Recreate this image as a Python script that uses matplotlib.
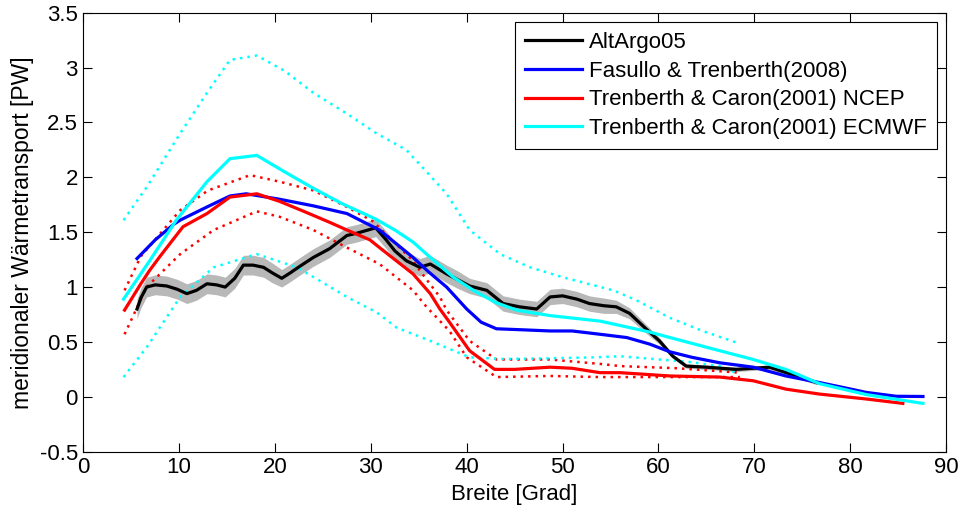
import matplotlib
matplotlib.use("Agg")
import matplotlib.pyplot as plt
import numpy as np

plt.rcParams['font.family'] = ['Liberation Sans', 'DejaVu Sans']

# AltArgo05 estimate with uncertainty band
argo_lat = [5.6, 6.0, 6.6, 7.5, 8.7, 9.8, 10.8, 11.8, 12.9, 13.9, 14.8, 15.8, 16.7, 17.7,
            18.8, 19.7, 20.7, 21.6, 22.6, 24.0, 25.7, 27.5, 28.5, 29.7, 30.5, 31.6, 32.5,
            33.7, 35.1, 36.2, 37.9, 39.0, 40.3, 42.1, 43.8, 45.5, 47.3, 48.7, 50.0, 51.5,
            52.8, 54.3, 55.6, 57.0, 58.7, 60.1, 61.5, 62.9, 65.0, 68.1, 71.6, 74.4, 76.5]
argo_val = [0.80, 0.90, 1.00, 1.02, 1.01, 0.98, 0.94, 0.97, 1.03, 1.02, 1.00, 1.08, 1.20, 1.20,
            1.18, 1.13, 1.08, 1.13, 1.19, 1.27, 1.35, 1.47, 1.49, 1.52, 1.54, 1.43, 1.33,
            1.24, 1.18, 1.21, 1.12, 1.07, 1.01, 0.97, 0.85, 0.82, 0.80, 0.91, 0.92, 0.89,
            0.85, 0.83, 0.82, 0.76, 0.62, 0.51, 0.37, 0.28, 0.27, 0.25, 0.27, 0.19, 0.13]
argo_err = [0.09, 0.09, 0.09, 0.09, 0.09, 0.09, 0.09, 0.09, 0.09, 0.09, 0.09, 0.09, 0.09, 0.09,
            0.09, 0.09, 0.08, 0.08, 0.08, 0.08, 0.08, 0.08, 0.08, 0.08, 0.08, 0.08, 0.08,
            0.08, 0.08, 0.08, 0.08, 0.08, 0.07, 0.07, 0.07, 0.07, 0.07, 0.07, 0.07, 0.07,
            0.07, 0.07, 0.06, 0.05, 0.04, 0.03, 0.02, 0.02, 0.02, 0.02, 0.02, 0.02, 0.02]

# Fasullo & Trenberth (2008)
ft_lat = [5.6, 7.5, 9.4, 10.1, 12.9, 15.3, 17.0, 20.5, 24.0, 27.5, 30.9, 34.4, 36.0, 37.9,
          40.0, 41.5, 43.1, 46.0, 48.7, 51.0, 53.9, 56.7, 59.1, 61.2, 63.5, 66.4, 69.9,
          73.3, 76.8, 79.0, 81.7, 84.8, 87.6]
ft_val = [1.26, 1.43, 1.57, 1.61, 1.73, 1.83, 1.85, 1.80, 1.74, 1.67, 1.52, 1.27, 1.14, 1.00,
          0.80, 0.68, 0.62, 0.61, 0.60, 0.60, 0.57, 0.54, 0.48, 0.41, 0.36, 0.31, 0.27,
          0.19, 0.13, 0.09, 0.04, 0.005, 0.003]

# Trenberth & Caron (2001), NCEP
ncep_lat = [4.3, 6.0, 6.9, 8.0, 10.4, 12.9, 15.3, 18.1, 20.5, 23.0, 25.7, 27.5, 29.9, 30.9,
            32.5, 34.4, 36.2, 37.2, 38.2, 40.3, 42.9, 45.0, 48.7, 51.0, 53.9, 56.0, 61.2,
            66.4, 69.9, 73.3, 76.8, 81.7, 85.5]
ncep_val = [0.79, 1.03, 1.15, 1.28, 1.55, 1.67, 1.82, 1.85, 1.78, 1.69, 1.59, 1.52, 1.43, 1.36,
            1.25, 1.12, 0.94, 0.80, 0.68, 0.42, 0.25, 0.25, 0.27, 0.26, 0.22, 0.22, 0.19,
            0.18, 0.146, 0.07, 0.025, -0.02, -0.06]
ncep_hi_lat = [4.3, 6.0, 10.1, 13.0, 17.4, 20.5, 24.0, 27.5, 30.2, 31.6, 34.4, 35.1, 37.2,
               37.9, 40.3, 43.1, 48.7, 53.9, 56.0, 62.0, 68.5]
ncep_hi_val = [0.97, 1.28, 1.70, 1.88, 2.02, 1.96, 1.88, 1.73, 1.60, 1.48, 1.24, 1.15, 0.91,
               0.79, 0.51, 0.34, 0.34, 0.30, 0.28, 0.26, 0.22]
ncep_lo_lat = [4.3, 6.6, 10.1, 13.6, 18.1, 20.5, 24.0, 27.5, 30.9, 34.4, 35.8, 38.2, 40.0,
               43.1, 48.7, 53.9, 56.0, 62.0, 68.5]
ncep_lo_val = [0.57, 1.00, 1.30, 1.52, 1.69, 1.64, 1.52, 1.36, 1.21, 0.97, 0.82, 0.60, 0.36,
               0.18, 0.19, 0.18, 0.18, 0.18, 0.18]

# Trenberth & Caron (2001), ECMWF
ecmwf_lat = [4.2, 7.0, 9.7, 12.9, 15.3, 18.1, 21.0, 24.0, 27.0, 30.5, 32.5, 34.4, 36.2, 38.6,
             40.7, 43.0, 45.2, 48.7, 53.9, 56.0, 59.1, 61.2, 66.4, 69.9, 73.3, 76.8, 81.7, 87.6]
ecmwf_val = [0.89, 1.25, 1.61, 1.96, 2.17, 2.20, 2.05, 1.90, 1.76, 1.62, 1.52, 1.41, 1.27, 1.09,
             0.97, 0.86, 0.79, 0.74, 0.69, 0.65, 0.59, 0.54, 0.42, 0.34, 0.25, 0.12, 0.02, -0.06]
ecmwf_hi_lat = [4.2, 6.6, 10.1, 12.9, 15.3, 18.1, 21.0, 24.0, 27.5, 30.6, 33.7, 35.5, 37.9,
                40.3, 43.5, 46.6, 50.0, 55.3, 57.7, 61.2, 64.6, 68.3]
ecmwf_hi_val = [1.61, 1.91, 2.40, 2.77, 3.07, 3.11, 2.97, 2.77, 2.58, 2.40, 2.25, 2.08, 1.85,
                1.52, 1.30, 1.18, 1.09, 0.97, 0.88, 0.72, 0.60, 0.49]
ecmwf_lo_lat = [4.2, 6.6, 10.1, 13.6, 18.1, 22.3, 25.0, 27.5, 30.6, 32.7, 36.2, 40.3, 43.8,
                48.0, 53.5, 56.0, 60.1, 63.0, 66.4, 68.3]
ecmwf_lo_val = [0.18, 0.45, 0.91, 1.18, 1.30, 1.18, 1.04, 0.91, 0.77, 0.63, 0.51, 0.36, 0.345,
                0.35, 0.36, 0.37, 0.34, 0.32, 0.28, 0.21]

labels = ['AltArgo05', 'Fasullo & Trenberth(2008)', 'Trenberth & Caron(2001) NCEP',
          'Trenberth & Caron(2001) ECMWF']
x_ticks = [0, 10, 20, 30, 40, 50, 60, 70, 80, 90]
y_ticks = [-0.5, 0, 0.5, 1, 1.5, 2, 2.5, 3, 3.5]
y_ticklabels = ['-0.5', '0', '0.5', '1', '1.5', '2', '2.5', '3', '3.5']

fig = plt.figure(figsize=(9.59, 5.19), dpi=100)
ax = fig.add_axes([0.0869, 0.1297, 0.8995, 0.8458])

main_lw = 2.3
dot = (0, (1, 2))

a_lat = np.array(argo_lat)
a_val = np.array(argo_val)
a_err = np.array(argo_err)
ax.fill_between(a_lat, a_val - a_err, a_val + a_err, color=(0.72, 0.72, 0.72), lw=0, zorder=1)

ax.plot(ncep_hi_lat, ncep_hi_val, color='red', lw=1.8, ls=dot, zorder=2)
ax.plot(ncep_lo_lat, ncep_lo_val, color='red', lw=1.8, ls=dot, zorder=2)
ax.plot(ecmwf_hi_lat, ecmwf_hi_val, color='cyan', lw=1.8, ls=dot, zorder=2)
ax.plot(ecmwf_lo_lat, ecmwf_lo_val, color='cyan', lw=1.8, ls=dot, zorder=2)

ax.plot(argo_lat, argo_val, color='black', lw=main_lw, label=labels[0], zorder=3)
ax.plot(ft_lat, ft_val, color='blue', lw=main_lw, label=labels[1], zorder=3)
ax.plot(ncep_lat, ncep_val, color='red', lw=main_lw, label=labels[2], zorder=3)
ax.plot(ecmwf_lat, ecmwf_val, color='cyan', lw=main_lw, label=labels[3], zorder=3)

ax.set_xlim(0, 90)
ax.set_ylim(-0.5, 3.5)
ax.set_xticks(x_ticks)
ax.set_xticklabels([str(t) for t in x_ticks])
ax.set_yticks(y_ticks)
ax.set_yticklabels(y_ticklabels)
ax.tick_params(direction='in', length=6.5, width=0.8, top=True, right=True,
               labelsize=16, pad=4)
for s in ax.spines.values():
    s.set_linewidth(0.8)

ax.set_xlabel('Breite [Grad]', fontsize=16, labelpad=4)
ax.set_ylabel('meridionaler Wärmetransport [PW]', fontsize=16.5, labelpad=4)

leg = ax.legend(loc='upper right', bbox_to_anchor=(0.9896, 0.979), fontsize=16,
                handlelength=2.6, handletextpad=0.3, borderpad=0.45, labelspacing=0.35,
                fancybox=False, framealpha=1, edgecolor='black', borderaxespad=0)
leg.get_frame().set_linewidth(0.8)

fig.savefig('out.png', dpi=100)
